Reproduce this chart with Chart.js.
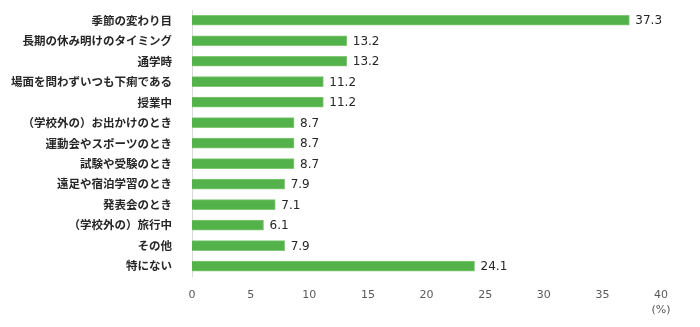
<!DOCTYPE html>
<html>
<head>
<meta charset="utf-8">
<script src="https://cdn.jsdelivr.net/npm/chart.js@4/dist/chart.umd.min.js"></script>
<style>
  html, body { margin: 0; padding: 0; background: #fff; }
  #wrap { width: 700px; height: 327px; }
</style>
</head>
<body>
<div id="wrap"><canvas id="chart" width="700" height="327"></canvas></div>
<script>
const categories = [
  "季節の変わり目",
  "長期の休み明けのタイミング",
  "通学時",
  "場面を問わずいつも下痢である",
  "授業中",
  "（学校外の）お出かけのとき",
  "運動会やスポーツのとき",
  "試験や受験のとき",
  "遠足や宿泊学習のとき",
  "発表会のとき",
  "（学校外の）旅行中",
  "その他",
  "特にない",
];
const values = [37.3, 13.2, 13.2, 11.2, 11.2, 8.7, 8.7, 8.7, 7.9, 7.1, 6.1, 7.9, 24.1];
const unitLabel = "(%)";

const BAR_GREEN = "#53b249";
const TEXT_DARK = "#262626";
const TICK_GRAY = "#595959";

const valueLabels = {
  id: "valueLabels",
  afterDatasetsDraw(chart) {
    const { ctx } = chart;
    const meta = chart.getDatasetMeta(0);
    ctx.save();
    ctx.font = "12px 'DejaVu Sans'";
    ctx.fillStyle = TEXT_DARK;
    ctx.textAlign = "left";
    ctx.textBaseline = "middle";
    meta.data.forEach((bar, i) => {
      ctx.fillText(values[i].toFixed(1), bar.x + 6, bar.y + 1);
    });
    // unit under the last tick
    const xs = chart.scales.x;
    ctx.font = "11px 'DejaVu Sans'";
    ctx.fillStyle = TICK_GRAY;
    ctx.textAlign = "center";
    ctx.fillText(unitLabel, xs.getPixelForValue(40), 310);
    ctx.restore();
  },
};

new Chart(document.getElementById("chart"), {
  type: "bar",
  data: {
    labels: categories,
    datasets: [
      {
        data: values,
        backgroundColor: BAR_GREEN,
        borderColor: "#82c776",
        borderWidth: 1,
        barThickness: 10,
      },
    ],
  },
  options: {
    indexAxis: "y",
    responsive: false,
    animation: false,
    layout: { padding: { top: 10, right: 39, bottom: 21.5, left: 0 } },
    plugins: {
      legend: { display: false },
      tooltip: { enabled: false },
    },
    scales: {
      x: {
        min: 0,
        max: 40,
        ticks: {
          stepSize: 5,
          color: TICK_GRAY,
          font: { family: "DejaVu Sans", size: 11 },
          padding: 4,
        },
        grid: { display: false },
        border: { display: false },
      },
      y: {
        afterFit: (scale) => {
          scale.width = 192;
          scale.paddingTop = 0;
          scale.paddingBottom = 0;
        },
        ticks: {
          color: TEXT_DARK,
          font: { family: "Noto Sans CJK JP", size: 11.5, weight: "bold" },
          padding: 12,
          autoSkip: false,
        },
        grid: { display: false },
        border: { display: true, color: "#d9d9d9", width: 1 },
      },
    },
  },
  plugins: [valueLabels],
});
</script>
</body>
</html>
